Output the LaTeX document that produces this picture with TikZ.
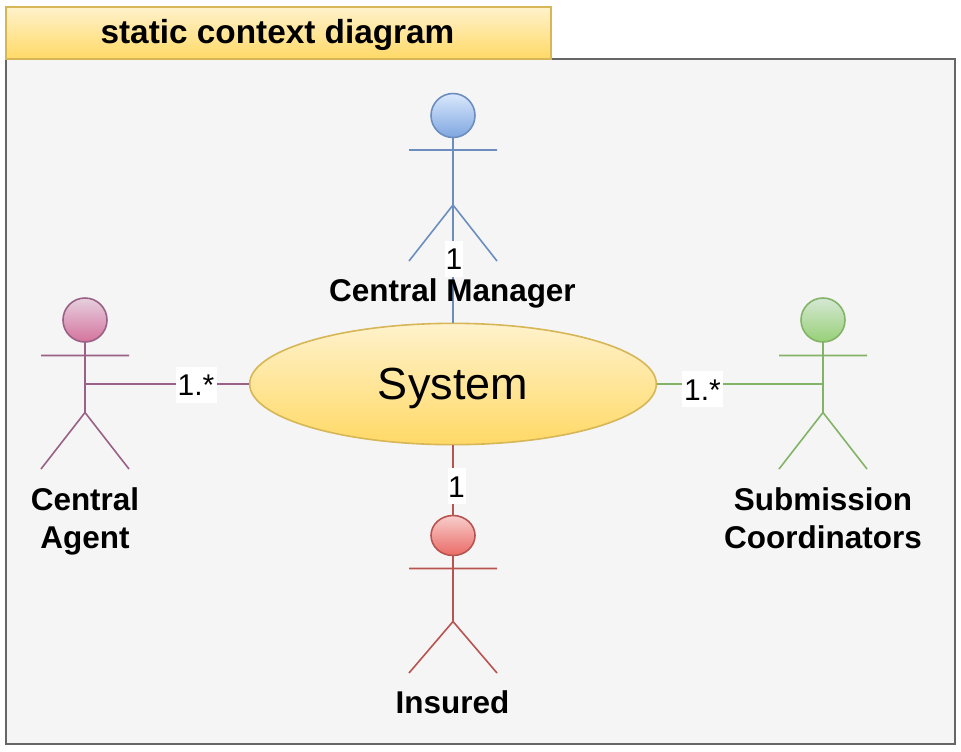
\documentclass[tikz,border=0pt]{standalone}
\usepackage{fontspec}
\setmainfont{Liberation Sans}
\usetikzlibrary{shapes.geometric}
\definecolor{frameFill}{HTML}{F5F5F5}
\definecolor{frameLine}{HTML}{666666}
\definecolor{yelTop}{HTML}{FFF2CC}
\definecolor{yelBot}{HTML}{FFD966}
\definecolor{yelLine}{HTML}{D6B656}
\definecolor{bluTop}{HTML}{DAE8FC}
\definecolor{bluBot}{HTML}{7EA6E0}
\definecolor{bluLine}{HTML}{6C8EBF}
\definecolor{magTop}{HTML}{E6D0DE}
\definecolor{magBot}{HTML}{D5739D}
\definecolor{magLine}{HTML}{996185}
\definecolor{grnTop}{HTML}{D5E8D4}
\definecolor{grnBot}{HTML}{97D077}
\definecolor{grnLine}{HTML}{82B366}
\definecolor{redTop}{HTML}{F8CECC}
\definecolor{redBot}{HTML}{EA6B66}
\definecolor{redLine}{HTML}{B85450}
\tikzset{
  x=0.75pt, y=-0.75pt,
  ln/.style={line width=1.2pt},
  headshape/.style={ellipse, inner sep=0pt, minimum width=33pt, minimum height=33pt, line width=1.2pt},
  namelabel/.style={inner sep=0pt, align=center, font=\bfseries\fontsize{23.6}{28.5}\selectfont},
  mult/.style={fill=white, inner sep=0pt, minimum height=27pt, text height=16.5pt, text depth=0pt, font=\fontsize{22.5}{26}\selectfont},
  actorblue/.style={draw=bluLine, top color=bluTop, bottom color=bluBot},
  actormag/.style={draw=magLine, top color=magTop, bottom color=magBot},
  actorgrn/.style={draw=grnLine, top color=grnTop, bottom color=grnBot},
  actorred/.style={draw=redLine, top color=redTop, bottom color=redBot},
}
\begin{document}
\begin{tikzpicture}
\useasboundingbox (0,0) rectangle (961,751);
\node[draw=frameLine, fill=frameFill, line width=1.1pt, rectangle, inner sep=0pt, minimum width=711.75pt, minimum height=513.75pt] (frame) at (480.5,401.5) {};
\node[draw=yelLine, top color=yelTop, bottom color=yelBot, line width=1.1pt, rectangle, inner sep=0pt, minimum width=408.75pt, minimum height=39pt] (title) at (278.5,33) {};
\node[anchor=base, inner sep=0pt, font=\bfseries\fontsize{25}{30}\selectfont] (titletext) at (277.5,43) {static context diagram};

% System
\node[ellipse, draw=yelLine, top color=yelTop, bottom color=yelBot, line width=1.2pt, inner sep=0pt, minimum width=305pt, minimum height=91pt] (sys) at (453,384) {};
\node[anchor=base, inner sep=0pt, font=\fontsize{33.75}{40}\selectfont] (systext) at (453,399) {System};

% Central Manager
\coordinate (mArmL) at (409,150); \coordinate (mArmR) at (497,150);
\coordinate (mHip) at (453,205); \coordinate (mFootL) at (409,261); \coordinate (mFootR) at (497,261);
\draw[ln, bluLine] (mArmL) -- (mArmR) (mFootL) -- (mHip) -- (mFootR);
\node[headshape, actorblue] (mHead) at (453,115.5) {};
\draw[ln, bluLine] (mHead.south) -- (sys.north);
\node[namelabel] (mName) at (452.5,293) {Central Manager};
\node[mult, minimum width=13.5pt] (mMult) at (454,258.5) {1};

% Central Agent
\coordinate (aArmL) at (41,355.5); \coordinate (aArmR) at (129,355.5);
\coordinate (aHip) at (85,412.5); \coordinate (aFootL) at (41,469); \coordinate (aFootR) at (129,469);
\coordinate (aBody) at (85,384);
\draw[ln, magLine] (aArmL) -- (aArmR) (85,342) -- (aHip) (aFootL) -- (aHip) -- (aFootR);
\node[headshape, actormag] (aHead) at (85,320) {};
\draw[ln, magLine] (aBody) -- (sys.west);
\node[namelabel] (aName) at (85,521) {Central\\Agent};
\node[mult, minimum width=30.75pt] (aMult) at (196,384.5) {1.*};

% Submission Coordinators
\coordinate (sArmL) at (779,355.5); \coordinate (sArmR) at (867,355.5);
\coordinate (sHip) at (823,412.5); \coordinate (sFootL) at (779,469); \coordinate (sFootR) at (867,469);
\coordinate (sBody) at (823,384);
\draw[ln, grnLine] (sArmL) -- (sArmR) (823,342) -- (sHip) (sFootL) -- (sHip) -- (sFootR);
\node[headshape, actorgrn] (sHead) at (823,320) {};
\draw[ln, grnLine] (sBody) -- (sys.east);
\node[namelabel] (sName) at (823,518) {Submission\\Coordinators};
\node[mult, minimum width=30.75pt] (sMult) at (702.5,389) {1.*};

% Insured
\coordinate (iArmL) at (409,568.5); \coordinate (iArmR) at (497,568.5);
\coordinate (iHip) at (453,621.5); \coordinate (iFootL) at (409,673); \coordinate (iFootR) at (497,673);
\draw[ln, redLine] (iArmL) -- (iArmR) (453,555) -- (iHip) (iFootL) -- (iHip) -- (iFootR);
\node[headshape, actorred, minimum height=30pt] (iHead) at (453,535.5) {};
\draw[ln, redLine] (iHead.north) -- (sys.south);
\node[namelabel, anchor=base] (iName) at (452.5,713) {Insured};
\node[mult, minimum width=13.5pt] (iMult) at (456.5,486) {1};
\end{tikzpicture}
\end{document}
